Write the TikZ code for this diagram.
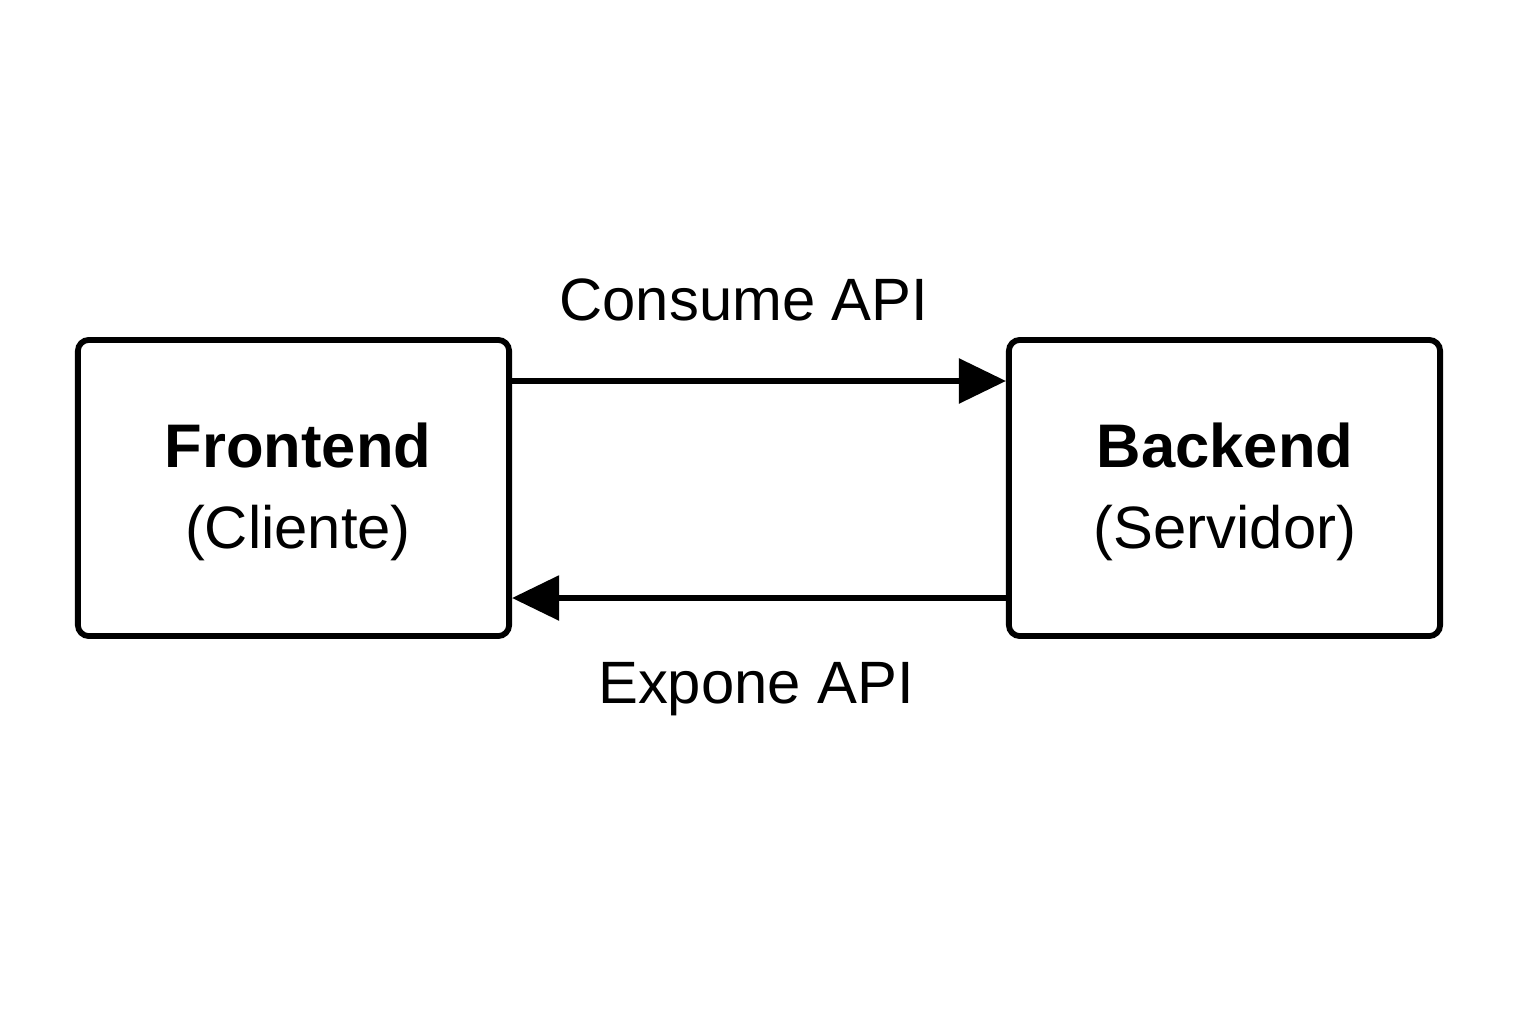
\documentclass[tikz,border=0pt]{standalone}
\usepackage{fontspec}
\setmainfont{Liberation Sans}
\usetikzlibrary{arrows.meta,calc}
\tikzset{
  box/.style={draw=black, line width=1.65pt, rounded corners=0.11cm, minimum width=4.31cm, minimum height=2.96cm, inner sep=0pt},
  conn/.style={line width=1.6pt, -{Triangle[length=0.47cm,width=0.44cm]}},
  title/.style={anchor=base, font=\fontsize{17.5}{20}\selectfont\bfseries, inner sep=0pt},
  sub/.style={anchor=base, font=\fontsize{17}{20}\selectfont, inner sep=0pt},
  lbl/.style={anchor=base, font=\fontsize{17}{20}\selectfont, inner sep=0pt}
}
\begin{document}
\begin{tikzpicture}[x=0.01cm,y=-0.01cm]
\useasboundingbox (0,0) rectangle (1536,1024);
\node[box] (F) at (293.5,488) {};
\node[box] (B) at (1224.5,488) {};
\node[title] (Ft) at (298,467) {Frontend};
\node[sub] (Fs) at (298,548) {(Cliente)};
\node[title] (Bt) at (1225,467) {Backend};
\node[sub] (Bs) at (1225,548) {(Servidor)};
\coordinate (a1) at (F.east |- 0,381);
\coordinate (b1) at (B.west |- 0,381);
\coordinate (a2) at (B.west |- 0,598);
\coordinate (b2) at (F.east |- 0,598);
\draw[conn] (a1) -- (b1);
\draw[conn] (a2) -- (b2);
\node[lbl] (c) at (744,320) {Consume API};
\node[lbl] (e) at (756,703) {Expone API};
\end{tikzpicture}
\end{document}
